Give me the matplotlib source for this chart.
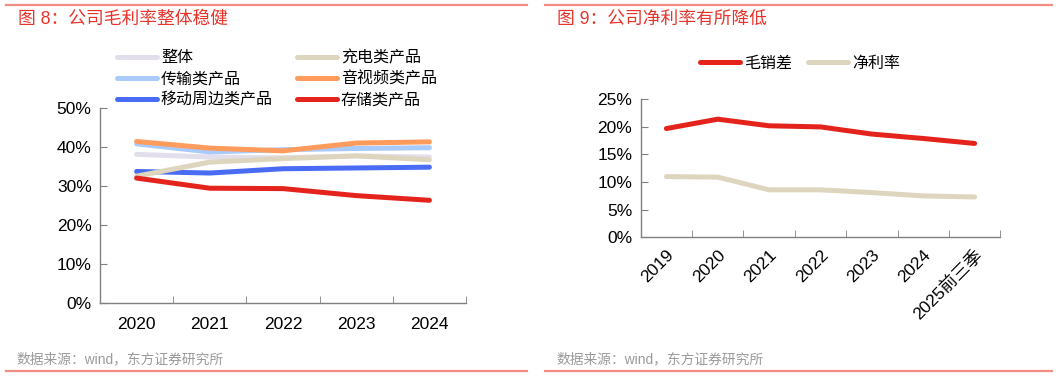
import numpy as np
import matplotlib
matplotlib.use("Agg")
import matplotlib.pyplot as plt
from matplotlib.lines import Line2D
from matplotlib.ticker import FixedLocator, FuncFormatter

plt.rcParams['font.family'] = ['Liberation Sans', 'Noto Sans CJK SC', 'DejaVu Sans']

# ---- 数据: 图8 毛利率 ----
years_l = ['2020', '2021', '2022', '2023', '2024']
zhengti = [38.1, 37.4, 37.2, 37.7, 37.4]
chongdian = [32.5, 36.1, 37.0, 37.7, 36.7]
chuanshu = [40.8, 38.7, 39.3, 39.6, 39.8]
yinshipin = [41.4, 39.7, 39.0, 41.0, 41.3]
yidong = [33.7, 33.3, 34.4, 34.6, 34.8]
cunchu = [32.0, 29.4, 29.3, 27.5, 26.3]

# ---- 数据: 图9 净利率 ----
years_r = ['2019', '2020', '2021', '2022', '2023', '2024', '2025前三季']
maoxiaocha = [19.7, 21.4, 20.2, 20.0, 18.7, 17.9, 17.0]
jinglilv = [11.0, 10.9, 8.6, 8.6, 8.1, 7.5, 7.3]

W, H = 1061, 377
fig = plt.figure(figsize=(W / 100, H / 100), dpi=100)

RED_TITLE = '#E8332B'
RED_LINE = '#F28C85'
GRAY_AX = '#808080'


def px(x, y):
    return x / W, 1 - y / H


def style_axes(ax, n):
    for s in ['top', 'right']:
        ax.spines[s].set_visible(False)
    for s in ['left', 'bottom']:
        ax.spines[s].set_color(GRAY_AX)
        ax.spines[s].set_linewidth(1.0)
    ax.set_xlim(-0.5, n - 0.5)
    ax.xaxis.set_major_locator(FixedLocator(range(n)))
    ax.xaxis.set_minor_locator(FixedLocator(np.arange(n + 1) - 0.5))
    ax.tick_params(axis='x', which='major', length=0, labelsize=12.5, pad=10)
    ax.tick_params(axis='x', which='minor', direction='in', length=5, color=GRAY_AX)
    ax.tick_params(axis='y', direction='in', length=5, color=GRAY_AX, labelsize=12.5, pad=6)
    ax.yaxis.set_major_formatter(FuncFormatter(lambda v, p: f'{v:.0f}%'))


# ---------- 左图 ----------
axl = fig.add_axes([100 / W, 1 - 302.7 / H, 366 / W, 194.7 / H])
xl = np.arange(len(years_l))
lw = 3.6
h_zt, = axl.plot(xl, zhengti, color='#E2DEEC', lw=lw, solid_capstyle='round', label='整体')
h_cs, = axl.plot(xl, chuanshu, color='#A8CBFB', lw=lw, solid_capstyle='round', label='传输类产品')
h_yd, = axl.plot(xl, yidong, color='#4A6CF5', lw=lw, solid_capstyle='round', label='移动周边类产品')
h_cd, = axl.plot(xl, chongdian, color='#DED5BE', lw=lw, solid_capstyle='round', label='充电类产品')
h_ys, = axl.plot(xl, yinshipin, color='#FF9B5C', lw=lw, solid_capstyle='round', label='音视频类产品')
h_cc, = axl.plot(xl, cunchu, color='#E5231D', lw=lw, solid_capstyle='round', label='存储类产品')
axl.set_ylim(0, 50)
axl.set_yticks(range(0, 51, 10))
axl.set_xticks(xl)
axl.set_xticklabels(years_l)
style_axes(axl, len(years_l))

axl.legend(handles=[h_zt, h_cs, h_yd, h_cd, h_ys, h_cc], ncol=2, frameon=False,
           loc='upper left', bbox_to_anchor=px(117, 50), bbox_transform=fig.transFigure,
           fontsize=11.5, handlelength=2.5, handletextpad=0.25, labelspacing=0.38,
           columnspacing=1.5, borderpad=0, borderaxespad=0)

# ---------- 右图 ----------
axr = fig.add_axes([640.7 / W, 1 - 237.3 / H, 359.6 / W, 138 / H])
xr = np.arange(len(years_r))
h_mx, = axr.plot(xr, maoxiaocha, color='#E5231D', lw=lw, solid_capstyle='round', label='毛销差')
h_jl, = axr.plot(xr, jinglilv, color='#DED5BE', lw=lw, solid_capstyle='round', label='净利率')
axr.set_ylim(0, 25)
axr.set_yticks(range(0, 26, 5))
axr.set_xticks(xr)
axr.set_xticklabels(years_r, rotation=45, ha='right', rotation_mode='anchor')
style_axes(axr, len(years_r))
axr.tick_params(axis='x', which='major', pad=7, labelsize=12.5)

axr.legend(handles=[h_mx, h_jl], ncol=2, frameon=False,
           loc='upper left', bbox_to_anchor=px(700, 56), bbox_transform=fig.transFigure,
           fontsize=11.5, handlelength=2.5, handletextpad=0.25, columnspacing=1.0,
           borderpad=0, borderaxespad=0)

# ---------- 标题、来源与装饰线 ----------
for x0, x1 in [(6, 527), (545, 1052)]:
    for y in [5, 371]:
        fig.add_artist(Line2D([x0 / W, x1 / W], [1 - y / H, 1 - y / H],
                              color=RED_LINE, lw=1.6, transform=fig.transFigure))

fig.text(*px(18, 19), '图 8：公司毛利率整体稳健', color=RED_TITLE, fontsize=12.8, va='center', ha='left')
fig.text(*px(557, 19), '图 9：公司净利率有所降低', color=RED_TITLE, fontsize=12.8, va='center', ha='left')
fig.text(*px(17, 359), '数据来源：wind，东方证券研究所', color='#9A9A9A', fontsize=9.9, va='center', ha='left')
fig.text(*px(557, 359), '数据来源：wind，东方证券研究所', color='#9A9A9A', fontsize=9.9, va='center', ha='left')

fig.savefig('out.png', dpi=100)
